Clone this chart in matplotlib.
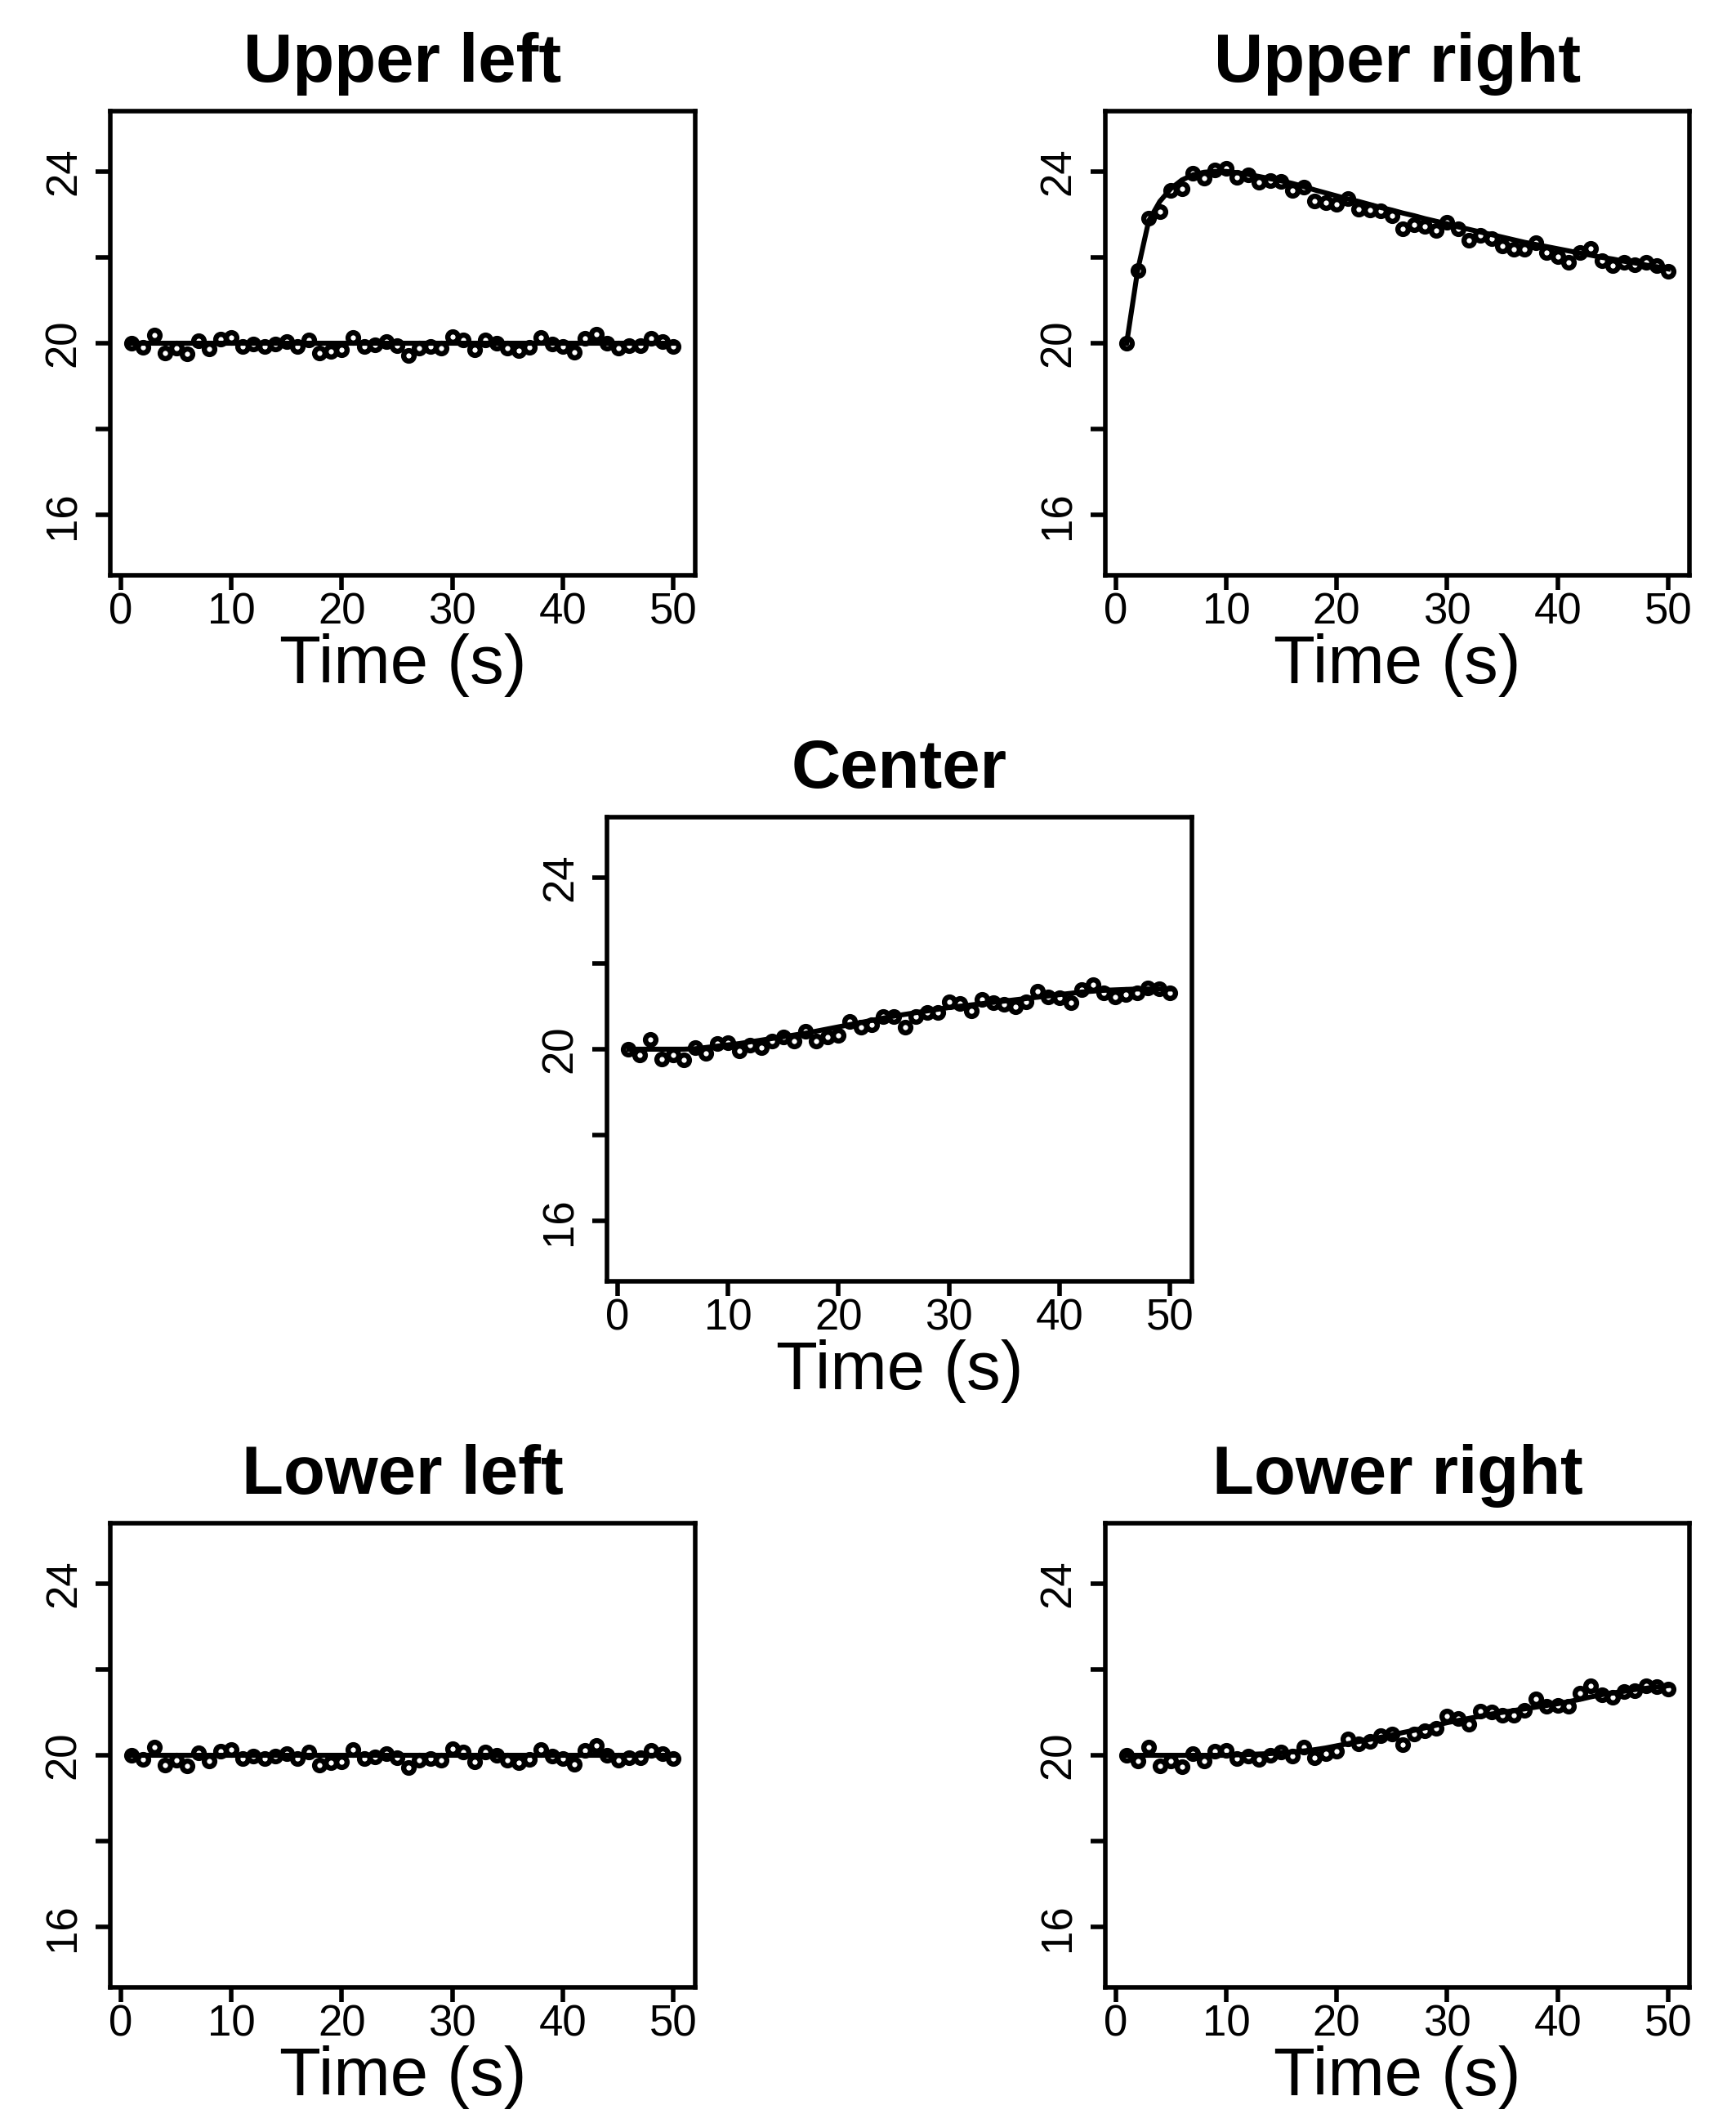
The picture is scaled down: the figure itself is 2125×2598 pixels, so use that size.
import numpy as np
import matplotlib.pyplot as plt

plt.rcParams['font.family'] = ['Liberation Sans', 'DejaVu Sans']

time = np.arange(1, 51)

flat_obs = [20.00, 19.90, 20.20, 19.78, 19.89, 19.76, 20.06, 19.87, 20.10, 20.14,
            19.92, 19.98, 19.92, 19.98, 20.04, 19.92, 20.08, 19.78, 19.82, 19.85,
            20.14, 19.92, 19.97, 20.04, 19.95, 19.71, 19.89, 19.93, 19.89, 20.16,
            20.08, 19.85, 20.08, 20.01, 19.89, 19.83, 19.90, 20.14, 19.98, 19.92,
            19.79, 20.11, 20.22, 20.01, 19.89, 19.95, 19.95, 20.11, 20.04, 19.92]
flat_fit = [20.0] * 50

peak_obs = [20.00, 21.70, 22.92, 23.07, 23.55, 23.59, 23.96, 23.85, 24.04, 24.07,
            23.87, 23.92, 23.75, 23.79, 23.76, 23.56, 23.64, 23.31, 23.28, 23.23,
            23.36, 23.13, 23.10, 23.09, 22.97, 22.67, 22.75, 22.72, 22.62, 22.82,
            22.66, 22.40, 22.52, 22.43, 22.26, 22.18, 22.18, 22.34, 22.11, 22.02,
            21.89, 22.11, 22.21, 21.92, 21.80, 21.89, 21.83, 21.88, 21.80, 21.67]
peak_fit = [20.00, 21.70, 22.85, 23.30, 23.60, 23.80, 23.92, 23.98, 24.00, 24.00,
            23.97, 23.93, 23.88, 23.83, 23.78, 23.72, 23.65, 23.57, 23.50, 23.43,
            23.36, 23.30, 23.23, 23.16, 23.10, 23.03, 22.97, 22.90, 22.84, 22.78,
            22.71, 22.65, 22.59, 22.53, 22.47, 22.41, 22.35, 22.30, 22.25, 22.20,
            22.15, 22.10, 22.05, 22.00, 21.96, 21.91, 21.87, 21.82, 21.78, 21.73]

ramp_obs = [20.00, 19.87, 20.22, 19.78, 19.87, 19.75, 20.04, 19.90, 20.13, 20.16,
            19.97, 20.10, 20.03, 20.19, 20.29, 20.19, 20.41, 20.19, 20.29, 20.32,
            20.64, 20.51, 20.57, 20.76, 20.76, 20.51, 20.76, 20.86, 20.86, 21.11,
            21.06, 20.89, 21.15, 21.08, 21.04, 20.99, 21.11, 21.34, 21.21, 21.19,
            21.08, 21.38, 21.50, 21.31, 21.21, 21.27, 21.31, 21.43, 21.40, 21.32]
ramp_fit = [20.00, 20.00, 20.00, 20.00, 20.00, 20.00, 20.01, 20.04, 20.07, 20.10,
            20.13, 20.17, 20.21, 20.25, 20.29, 20.33, 20.37, 20.42, 20.47, 20.52,
            20.57, 20.62, 20.67, 20.72, 20.77, 20.81, 20.85, 20.89, 20.93, 20.97,
            21.00, 21.03, 21.06, 21.09, 21.12, 21.15, 21.18, 21.21, 21.24, 21.27,
            21.30, 21.33, 21.35, 21.37, 21.38, 21.39, 21.40, 21.40, 21.40, 21.40]

late_obs = [20.00, 19.87, 20.20, 19.76, 19.87, 19.74, 20.04, 19.87, 20.09, 20.11,
            19.92, 19.98, 19.90, 20.01, 20.08, 19.98, 20.20, 19.95, 20.04, 20.09,
            20.39, 20.27, 20.33, 20.46, 20.49, 20.25, 20.49, 20.57, 20.62, 20.92,
            20.85, 20.73, 21.02, 21.00, 20.94, 20.94, 21.04, 21.32, 21.15, 21.16,
            21.15, 21.45, 21.61, 21.40, 21.36, 21.49, 21.51, 21.61, 21.59, 21.54]
late_fit = [20.00, 20.00, 20.00, 20.00, 20.00, 20.00, 20.00, 20.00, 20.00, 20.00,
            20.01, 20.02, 20.03, 20.04, 20.06, 20.08, 20.10, 20.13, 20.17, 20.22,
            20.27, 20.32, 20.37, 20.42, 20.47, 20.53, 20.58, 20.64, 20.70, 20.76,
            20.81, 20.86, 20.91, 20.96, 21.00, 21.04, 21.08, 21.12, 21.16, 21.20,
            21.25, 21.30, 21.36, 21.41, 21.45, 21.49, 21.53, 21.56, 21.59, 21.62]

titles = ['Upper left', 'Upper right', 'Center', 'Lower left', 'Lower right']
observed = [flat_obs, peak_obs, ramp_obs, flat_obs, late_obs]
fitted = [flat_fit, peak_fit, ramp_fit, flat_fit, late_fit]

x_ticks = [0, 10, 20, 30, 40, 50]
y_ticks = [16, 18, 20, 22, 24]
y_labels = ['16', '', '20', '', '24']

# axes boxes in figure fractions
w, h = 0.3369, 0.2186
rects = [[0.0635, 0.729, w, h],
         [0.6365, 0.729, w, h],
         [0.3496, 0.3965, w, h],
         [0.0635, 0.0639, w, h],
         [0.6365, 0.0639, w, h]]

fig = plt.figure(figsize=(10.625, 12.99), dpi=200)

for title, obs, fit, rect in zip(titles, observed, fitted, rects):
    ax = fig.add_axes(rect)
    ax.plot(time, obs, linestyle='None', marker='o', markersize=4.6,
            markeredgewidth=2.3, markerfacecolor='none', markeredgecolor='black')
    ax.plot(time, fit, color='black', linewidth=2.2)
    ax.set_xlim(-0.96, 51.96)
    ax.set_ylim(14.6, 25.4)
    ax.set_xticks(x_ticks)
    ax.set_yticks(y_ticks)
    ax.set_yticklabels(y_labels, rotation=90, va='center')
    ax.tick_params(length=6.5, width=2.0, labelsize=19, pad=1)
    ax.tick_params(axis='y', pad=5)
    for s in ax.spines.values():
        s.set_linewidth(2.0)
    ax.set_xlabel('Time (s)', fontsize=30, labelpad=0)
    ax.set_title(title, fontsize=30, fontweight='bold', pad=13)

fig.savefig('out.png', dpi=200)
